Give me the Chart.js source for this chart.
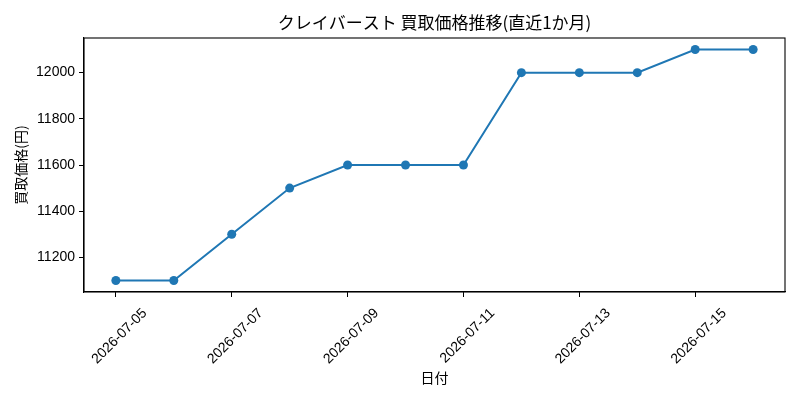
<html><head><title>クレイバースト 買取価格推移</title>
<script src="https://cdn.jsdelivr.net/npm/chart.js"></script>
<style>
    html, body {
        margin: 0;
        padding: 0;
        background: #fff;
    }
    #chart-container {
        width: 800px;
        height: 400px;
    }
</style>
</head>
<body>
    <div id="chart-container">
        <canvas id="priceChart"></canvas>
    </div>

    <script>
    const dates = ['2026-07-05', '2026-07-06', '2026-07-07', '2026-07-08', '2026-07-09', '2026-07-10',
                   '2026-07-11', '2026-07-12', '2026-07-13', '2026-07-14', '2026-07-15', '2026-07-16'];
    const prices = [11100, 11100, 11300, 11500, 11600, 11600, 11600, 12000, 12000, 12000, 12100, 12100];
    const xTickIndex = [0, 2, 4, 6, 8, 10];
    const yTicks = [11200, 11400, 11600, 11800, 12000];

    const FONT = "'Noto Sans CJK JP', 'Noto Sans', sans-serif";
    const NUM_FONT = "'Liberation Sans', Arial, sans-serif";
    const BLUE = '#1f77b4';

    // matplotlib style frame round the plot area
    const boxPlugin = {
        id: 'box',
        afterDraw(chart) {
            const a = chart.chartArea;
            const ctx = chart.ctx;
            ctx.save();
            ctx.strokeStyle = '#000';
            ctx.lineWidth = 1.1;
            ctx.strokeRect(a.left, a.top, a.right - a.left, a.bottom - a.top);
            ctx.restore();
        }
    };

    const ctx = document.getElementById('priceChart').getContext('2d');
    new Chart(ctx, {
        type: 'line',
        data: {
            datasets: [{
                label: '買取価格',
                data: prices.map((p, i) => ({ x: i, y: p })),
                borderColor: BLUE,
                backgroundColor: BLUE,
                borderWidth: 2,
                pointRadius: 4.5,
                pointHoverRadius: 4.5,
                pointBorderWidth: 0,
                tension: 0,
                fill: false
            }]
        },
        plugins: [boxPlugin],
        options: {
            responsive: true,
            maintainAspectRatio: false,
            animation: false,
            layout: { padding: { left: 0, right: 15, top: 0, bottom: 0 } },
            plugins: {
                legend: { display: false },
                tooltip: { enabled: false }
            },
            scales: {
                // top axis only carries the title, so it is centred over the plot area
                top: {
                    type: 'linear',
                    position: 'top',
                    min: -0.55,
                    max: dates.length - 1 + 0.55,
                    afterFit(scale) { scale.height = 38; },
                    grid: { display: false },
                    border: { display: false },
                    ticks: { display: false },
                    title: {
                        display: true,
                        text: 'クレイバースト 買取価格推移(直近1か月)',
                        color: '#000',
                        font: { family: FONT, size: 17 },
                        padding: { top: 12, bottom: 0 }
                    }
                },
                x: {
                    type: 'linear',
                    min: -0.55,
                    max: dates.length - 1 + 0.55,
                    afterBuildTicks(scale) {
                        scale.ticks = xTickIndex.map(v => ({ value: v }));
                    },
                    afterFit(scale) { scale.height = 108; },
                    grid: {
                        drawOnChartArea: false,
                        drawTicks: true,
                        tickLength: 5,
                        tickColor: '#000',
                        tickWidth: 1
                    },
                    border: { display: true, color: '#000', width: 1.1 },
                    ticks: {
                        callback: v => dates[v],
                        minRotation: 45,
                        maxRotation: 45,
                        labelOffset: 29,
                        padding: 8,
                        color: '#000',
                        font: { family: NUM_FONT, size: 14 }
                    },
                    title: {
                        display: true,
                        text: '日付',
                        color: '#000',
                        font: { family: FONT, size: 14 },
                        padding: { top: 0, bottom: 14 }
                    }
                },
                y: {
                    min: 11050,
                    max: 12150,
                    afterBuildTicks(scale) {
                        scale.ticks = yTicks.map(v => ({ value: v }));
                    },
                    afterFit(scale) { scale.width = 84; },
                    grid: {
                        drawOnChartArea: false,
                        drawTicks: true,
                        tickLength: 5,
                        tickColor: '#000',
                        tickWidth: 1
                    },
                    border: { display: true, color: '#000', width: 1.1 },
                    ticks: {
                        callback: v => String(v),
                        padding: 4,
                        color: '#000',
                        font: { family: NUM_FONT, size: 14 }
                    },
                    title: {
                        display: true,
                        text: '買取価格(円)',
                        color: '#000',
                        font: { family: FONT, size: 14 },
                        padding: { top: 12, bottom: 0 }
                    }
                }
            }
        }
    });
    </script>
</body>
</html>
